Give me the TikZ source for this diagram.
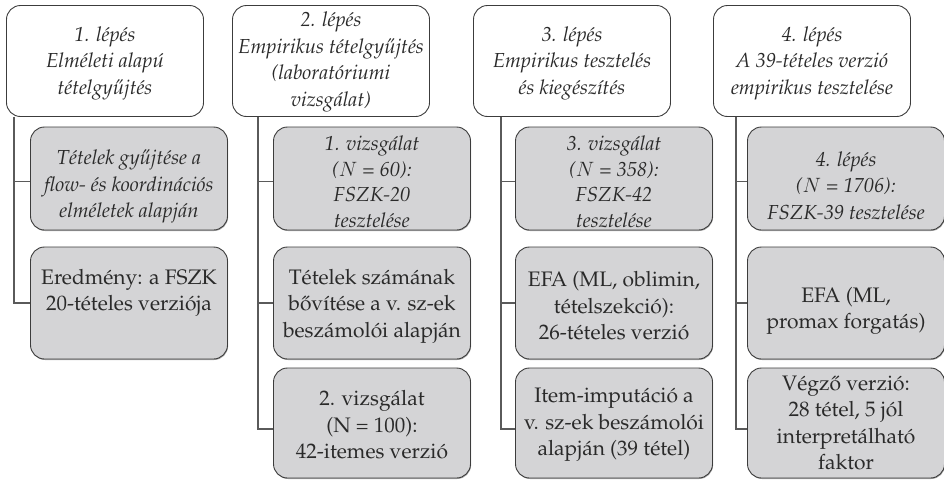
\documentclass[tikz,border=0pt]{standalone}
\usepackage[T1]{fontenc}
\usetikzlibrary{shadows}
\definecolor{bordc}{HTML}{3C3C3C}
\definecolor{linec}{HTML}{5A5A5A}
\definecolor{subfill}{HTML}{D4D4D6}
\definecolor{txt}{HTML}{2A2A2A}
\tikzset{
  base/.style={draw=bordc, line width=0.9pt, rounded corners=14pt, minimum width=197pt, inner sep=0pt},
  head/.style={base, fill=white, minimum height=111pt},
  sub/.style={base, fill=subfill, drop shadow={shadow xshift=0.6pt, shadow yshift=-1pt, fill=black!55, opacity=0.6}},
  tx/.style={align=center, inner sep=0pt, text=txt, font=\fontfamily{ppl}\fontsize{21}{26.5}\selectfont},
  txi/.style={tx, font=\fontfamily{ppl}\itshape\fontsize{20.3}{26.5}\selectfont},
  conn/.style={draw=linec, line width=1.1pt},
}
\begin{document}
\begin{tikzpicture}[x=1pt, y=-1pt]
\useasboundingbox (0,0) rectangle (944,482);
% headers
\node[head] (h1) at (105,61) {};
\node[head] (h2) at (331,61) {};
\node[head] (h3) at (572,61) {};
\node[head] (h4) at (812,61) {};
\node[txi] (th1) at ([yshift=-2pt]h1.center) {1. lépés\\Elméleti alapú\\tételgy\H{u}jtés};
\node[txi] (th2) at ([yshift=-1pt]h2.center) {2. lépés\\Empirikus tételgy\H{u}jtés\\(laboratóriumi\\vizsgálat)};
\node[txi] (th3) at ([yshift=-2pt]h3.center) {3. lépés\\Empirikus tesztelés\\és kiegészítés};
\node[txi] (th4) at ([yshift=-2pt]h4.center) {4. lépés\\A 39-tételes verzió\\empirikus tesztelése};
% column 1
\node[sub, minimum height=103pt] (a1) at (129,178.5) {};
\node[sub, minimum height=112pt] (a2) at (129,303) {};
\node[txi] (ta1) at ([yshift=-8pt]a1.center) {Tételek gy\H{u}jtése a\\flow- és koordinációs\\elméletek alapján};
\node[tx] (ta2) at (129,293) {Eredmény: a FSZK\\20-tételes verziója};
% column 2
\node[sub, minimum height=103pt] (b1) at (372,178.5) {};
\node[sub, minimum height=112pt] (b2) at (372,303) {};
\node[sub, minimum height=110pt] (b3) at (372,423) {};
\node[txi, font=\fontfamily{ppl}\itshape\fontsize{20.3}{25.5}\selectfont] (tb1) at ([yshift=-3.5pt]b1.center) {1. vizsgálat\\($N$ = 60):\\FSZK-20\\tesztelése};
\node[tx] (tb2) at ([yshift=-3pt]b2.center) {Tételek számának\\b\H{o}vítése a v. sz-ek\\beszámolói alapján};
\node[tx] (tb3) at ([yshift=-2pt]b3.center) {2. vizsgálat\\(N = 100):\\42-itemes verzió};
% column 3
\node[sub, minimum height=103pt] (c1) at (614,178.5) {};
\node[sub, minimum height=112pt] (c2) at (614,303) {};
\node[sub, minimum height=110pt] (c3) at (614,423) {};
\node[txi, font=\fontfamily{ppl}\itshape\fontsize{20.3}{25.5}\selectfont] (tc1) at ([yshift=-3.5pt]c1.center) {3. vizsgálat\\($N$ = 358):\\FSZK-42\\tesztelése};
\node[tx] (tc2) at ([yshift=-3pt]c2.center) {EFA (ML, oblimin,\\tételszekció):\\26-tételes verzió};
\node[tx] (tc3) at ([yshift=-2pt]c3.center) {Item-imputáció a\\v. sz-ek beszámolói\\alapján (39 tétel)};
% column 4
\node[sub, minimum height=103pt] (d1) at (846,178.5) {};
\node[sub, minimum height=112pt] (d2) at (846,303) {};
\node[sub, minimum height=110pt] (d3) at (846,423) {};
\node[txi] (td1) at ([yshift=-7pt]d1.center) {4. lépés\\($N$ = 1706):\\FSZK-39 tesztelése};
\node[tx] (td2) at ([yshift=-8pt]d2.center) {EFA (ML,\\promax forgatás)};
\node[tx] (td3) at ([yshift=0pt]d3.center) {Végz\H{o} verzió:\\28 tétel, 5 jól\\interpretálható\\faktor};
% connectors
\coordinate (v1) at (14,0);
\coordinate (v2) at (258,0);
\coordinate (v3) at (501,0);
\coordinate (v4) at (736,0);
\draw[conn] (h1.south -| v1) |- ([yshift=-3pt]a1.west);
\draw[conn] (h1.south -| v1) |- (a2.west);
\draw[conn] (h2.south -| v2) |- ([yshift=-3pt]b1.west);
\draw[conn] (h2.south -| v2) |- (b2.west);
\draw[conn] (h2.south -| v2) |- ([yshift=-6pt]b3.west);
\draw[conn] (h3.south -| v3) |- ([yshift=-3pt]c1.west);
\draw[conn] (h3.south -| v3) |- (c2.west);
\draw[conn] (h3.south -| v3) |- ([yshift=-6pt]c3.west);
\draw[conn] (h4.south -| v4) |- ([yshift=-3pt]d1.west);
\draw[conn] (h4.south -| v4) |- (d2.west);
\draw[conn] (h4.south -| v4) |- ([yshift=-6pt]d3.west);
\end{tikzpicture}
\end{document}
